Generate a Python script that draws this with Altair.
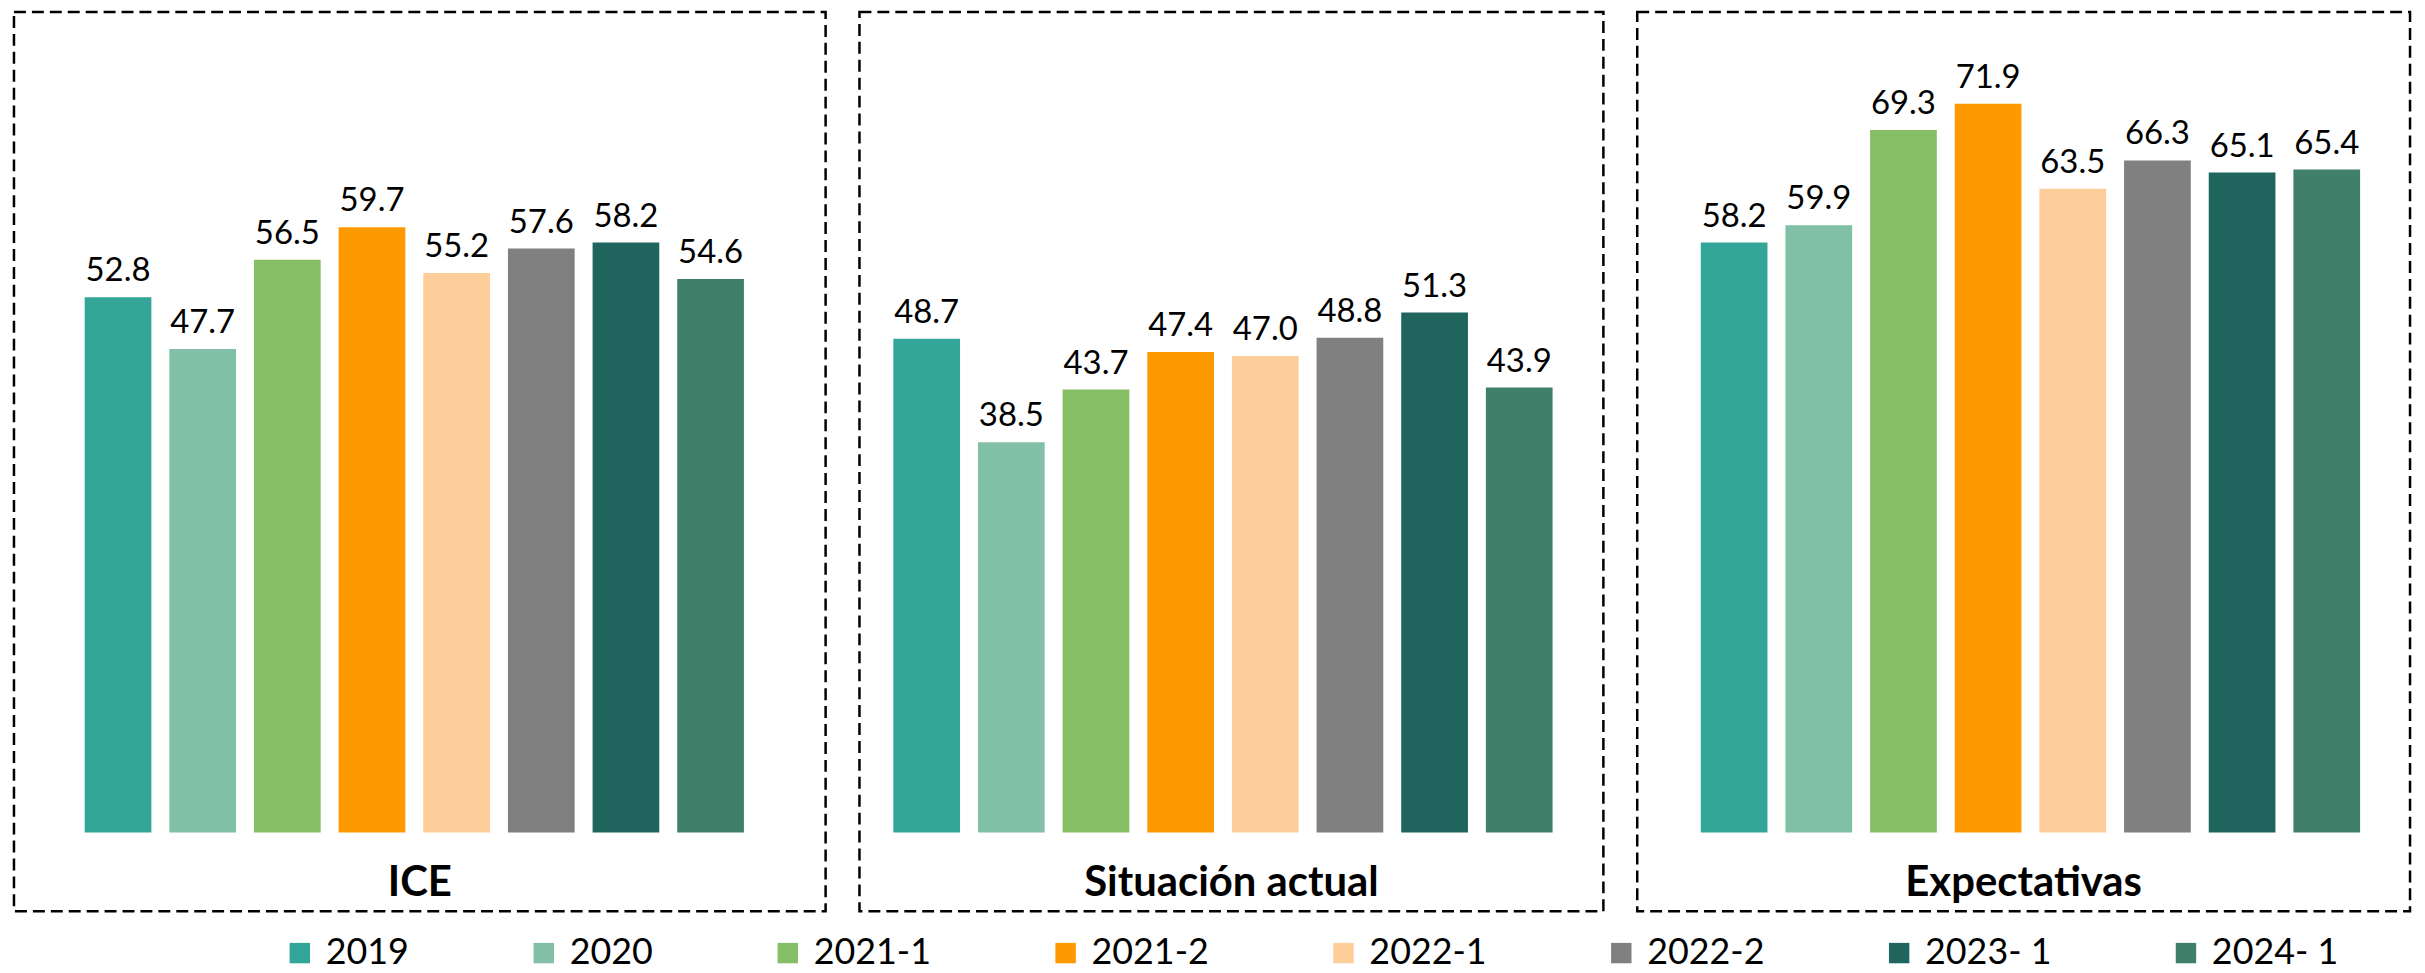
import altair as alt
import pandas as pd

periods = ["2019", "2020", "2021-1", "2021-2", "2022-1", "2022-2", "2023- 1", "2024- 1"]
colors = ["#33A699", "#81C0A7", "#86BE66", "#FF9900", "#FDCE9A", "#808080", "#1F655D", "#40806A"]
panels = ["ICE", "Situación actual", "Expectativas"]
ice = [52.8, 47.7, 56.5, 59.7, 55.2, 57.6, 58.2, 54.6]
situacion = [48.7, 38.5, 43.7, 47.4, 47.0, 48.8, 51.3, 43.9]
expectativas = [58.2, 59.9, 69.3, 71.9, 63.5, 66.3, 65.1, 65.4]

rows = []
for panel, vals in zip(panels, [ice, situacion, expectativas]):
    for p, v in zip(periods, vals):
        rows.append({"panel": panel, "periodo": p, "valor": v})
df = pd.DataFrame(rows)

FONT = "Lato"
panel_widths = [815, 747, 776]
panel_outer = [0.9, 0.5, 0.67]
panel_align = [0.464, 0.4, 0.56]
H = 903
ydom = [-7.76, 80.94]

def make_panel(name, w, po, al):
    base = alt.Chart(df).transform_filter(alt.datum.panel == name)
    x = alt.X("periodo:N", sort=periods, axis=None,
              scale=alt.Scale(paddingInner=0.212, paddingOuter=po, align=al))
    y = alt.Y("valor:Q", axis=None, scale=alt.Scale(domain=ydom, nice=False, zero=False))
    bars = base.mark_bar().encode(
        x=x, y=y, y2=alt.datum(0),
        color=alt.Color("periodo:N", sort=periods,
                        scale=alt.Scale(domain=periods, range=colors),
                        legend=alt.Legend(title=None, orient="none", direction="horizontal",
                                          legendX=269, legendY=927,
                                          symbolType="square", symbolSize=420,
                                          symbolStrokeWidth=0, labelFontSize=36,
                                          labelFont=FONT, labelColor="black",
                                          labelOffset=8, columnPadding=117,
                                          labelLimit=400)),
    )
    labels = base.mark_text(baseline="alphabetic", dy=-16, fontSize=33, font=FONT,
                            color="black").encode(
        x=x, y=y, text=alt.Text("valor:Q", format=".1f"))
    return alt.layer(bars, labels).properties(
        width=w, height=H,
        title=alt.Title(name, orient="bottom", offset=-48, fontSize=42,
                        fontWeight="bold", font=FONT, color="black", anchor="middle"),
    )

chart = alt.hconcat(*[make_panel(n, w, po, al) for n, w, po, al in
                      zip(panels, panel_widths, panel_outer, panel_align)],
                    spacing=30).properties(
    padding={"left": 4, "top": 0, "right": 5, "bottom": 5}
).configure_view(
    stroke="black", strokeDash=[12, 6], strokeWidth=2.5
).configure_concat(spacing=30)

chart.save("out.html", embed_options={"renderer": "svg", "actions": False})
